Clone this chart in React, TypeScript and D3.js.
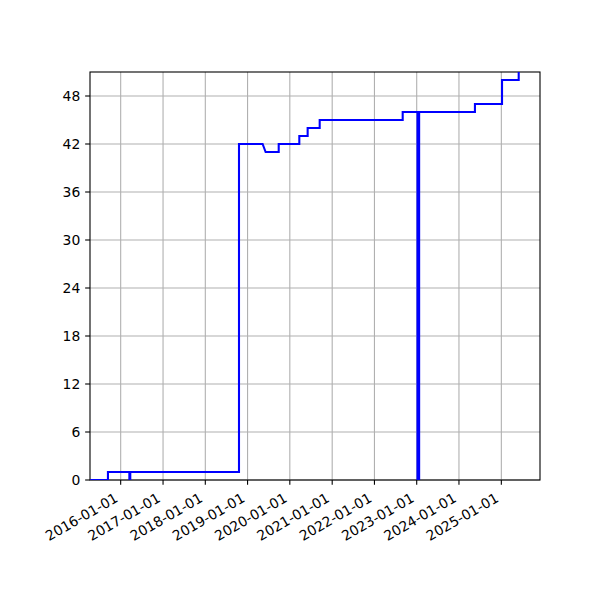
import React from "react";
import * as d3 from "d3";

const dates: string[] = [
  "2015-04-14", "2015-09-13", "2015-09-13", "2016-03-16", "2016-03-16", "2016-03-24", "2016-03-24",
  "2018-10-19", "2018-10-19", "2019-05-11", "2019-06-06", "2019-09-27", "2019-09-27",
  "2020-03-23", "2020-03-23", "2020-06-03", "2020-06-03", "2020-09-15", "2020-09-15",
  "2022-09-02", "2022-09-02", "2023-01-08", "2023-01-08", "2023-01-22", "2023-01-22",
  "2024-05-18", "2024-05-18", "2025-01-07", "2025-01-07", "2025-05-31", "2025-05-31",
];
const values: number[] = [
  0, 0, 1, 1, 0, 0, 1,
  1, 42, 42, 41, 41, 42,
  42, 43, 43, 44, 44, 45,
  45, 46, 46, 0, 0, 46,
  46, 47, 47, 50, 50, 55,
];
const xTickLabels: string[] = [
  "2016-01-01", "2017-01-01", "2018-01-01", "2019-01-01", "2020-01-01",
  "2021-01-01", "2022-01-01", "2023-01-01", "2024-01-01", "2025-01-01",
];
const yTicks: number[] = [0, 6, 12, 18, 24, 30, 36, 42, 48];
const xDomain: string[] = ["2015-04-11", "2025-12-01"];
const yDomain: number[] = [0, 51];

export default function App() {
  const W = 600, H = 600;
  const left = 90, right = 540, top = 72, bottom = 480;
  const parse = d3.utcParse("%Y-%m-%d");
  const x = d3.scaleUtc()
    .domain([parse(xDomain[0])!, parse(xDomain[1])!])
    .range([left, right]);
  const y = d3.scaleLinear().domain(yDomain).range([bottom, top]);
  const pts = dates.map((d, i) => [parse(d)!, values[i]] as [Date, number]);
  const line = d3.line<[Date, number]>().x((d) => x(d[0])).y((d) => y(d[1]));
  const fs = 13.9;
  const tickLen = 4.86;
  const font = "'DejaVu Sans', sans-serif";
  return (
    <svg width={W} height={H} style={{ position: "absolute", left: 0, top: 0, background: "#fff" }}>
      <defs>
        <clipPath id="plotclip">
          <rect x={left} y={top} width={right - left} height={bottom - top} />
        </clipPath>
      </defs>
      <rect x={0} y={0} width={W} height={H} fill="#fff" />
      {/* grid */}
      {xTickLabels.map((t) => (
        <line key={"gx" + t} x1={x(parse(t)!)} x2={x(parse(t)!)} y1={top} y2={bottom} stroke="#b0b0b0" strokeWidth={1.1} />
      ))}
      {yTicks.map((t) => (
        <line key={"gy" + t} x1={left} x2={right} y1={y(t)} y2={y(t)} stroke="#b0b0b0" strokeWidth={1.1} />
      ))}
      {/* spines */}
      <rect x={left} y={top} width={right - left} height={bottom - top} fill="none" stroke="#000" strokeWidth={1.1} />
      <path d={line(pts) || ""} fill="none" stroke="blue" strokeWidth={2.08} clipPath="url(#plotclip)" strokeLinejoin="miter" strokeLinecap="butt" />
      {/* x ticks */}
      {xTickLabels.map((t) => {
        const px = x(parse(t)!);
        const bx = px - 3.3 * 0.5;
        const by = bottom + tickLen + 4.86 + (16.2 - 3.3) * 0.866;
        return (
          <g key={"xt" + t}>
            <line x1={px} x2={px} y1={bottom} y2={bottom + tickLen} stroke="#000" strokeWidth={1.1} />
            <text x={bx} y={by} transform={`rotate(-30 ${bx} ${by})`} textAnchor="end" fontFamily={font} fontSize={fs} fill="#000">{t}</text>
          </g>
        );
      })}
      {/* y ticks */}
      {yTicks.map((t) => (
        <g key={"yt" + t}>
          <line x1={left - tickLen} x2={left} y1={y(t)} y2={y(t)} stroke="#000" strokeWidth={1.1} />
          <text x={left - tickLen - 4.86} y={y(t)} dy="0.36em" textAnchor="end" fontFamily={font} fontSize={fs} fill="#000">{t}</text>
        </g>
      ))}
    </svg>
  );
}
